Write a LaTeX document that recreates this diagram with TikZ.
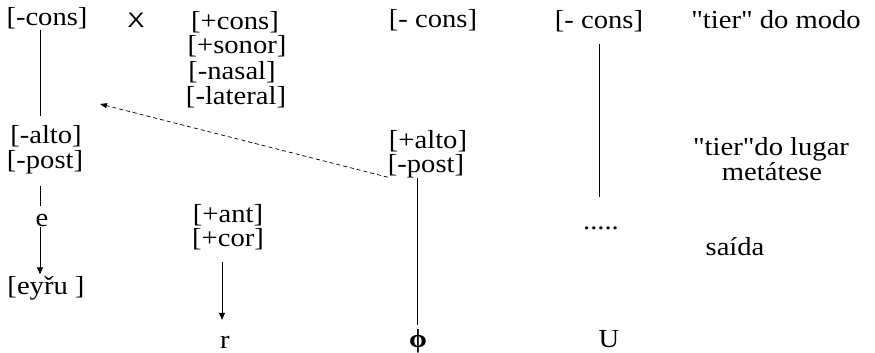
\documentclass[tikz,border=0pt]{standalone}
\usepackage{fontspec}
\setmainfont{Liberation Serif}[FakeStretch=1.1, Ligatures=TeXOff]
\newfontfamily\xsans{Liberation Sans}[FakeStretch=1.2]
\usetikzlibrary{arrows.meta}
\tikzset{
  lbl/.style={inner sep=0pt, text height=18pt, text depth=4pt, font=\fontsize{26}{26}\selectfont},
  conn/.style={line width=0.8pt, black},
  arr/.style={conn, -{Triangle[length=7pt,width=6pt]}},
  dsh/.style={line width=0.7pt, dashed, dash pattern=on 4pt off 3pt, -{Triangle[length=7pt,width=5pt]}}
}
\begin{document}
\begin{tikzpicture}[x=1pt,y=-1pt]
\useasboundingbox (0,0) rectangle (875,353);
% top row
\node[lbl] (cons1) at (47,18.5) {[-cons]};
\node[inner sep=0pt, font=\xsans\fontsize{21}{21}\selectfont] (X) at (136,20) {X};
\node[lbl] (pcons) at (235,23) {[+cons]};
\node[lbl] (psonor) at (237,47) {[+sonor]};
\node[lbl] (mnasal) at (232,73) {[-nasal]};
\node[lbl] (mlat) at (236,97) {[-lateral]};
\node[lbl] (cons2) at (433,21) {[- cons]};
\node[lbl] (cons3) at (599,22) {[- cons]};
\node[lbl] (tmodo) at (776,22) {"tier" do modo};
% middle
\node[lbl] (malto) at (46,136) {[-alto]};
\node[lbl] (mpost1) at (45,161) {[-post]};
\node[lbl] (palto) at (428,141) {[+alto]};
\node[lbl] (mpost2) at (426,165) {[-post]};
\node[lbl] (tlugar) at (771,148) {"tier"do lugar};
\node[lbl] (metat) at (772,173) {metátese};
% lower
\node[lbl] (e) at (42,219) {e};
\node[lbl] (pant) at (228,215) {[+ant]};
\node[lbl] (pcor) at (228,239) {[+cor]};
\node[lbl] (dots) at (601,222) {.....};
\node[lbl] (saida) at (735,248) {saída};
\node[lbl] (eyru) at (46,287.5) {[eyřu ]};
\node[lbl] (r) at (225,341) {r};
\node[lbl, font=\fontsize{26}{26}\selectfont\bfseries] (phi) at (418,340) {ϕ};
\node[lbl] (U) at (609,340) {U};
% connectors
\draw[conn] (cons1.south -| 40,0) -- ([yshift=9pt]malto.north -| 40,0);
\draw[conn] ([yshift=-14pt]mpost1.south -| 40,0) -- ([yshift=2pt]e.north -| 40,0);
\draw[arr] ([yshift=-1pt]e.base -| 40,0) -- ([yshift=2pt]eyru.north -| 40,0);
\draw[arr] ([yshift=-12pt]pcor.south -| 222,0) -- ([yshift=10pt]r.north -| 222,0);
\draw[conn] ([yshift=-2pt]mpost2.south -| 417,0) -- ([yshift=4pt]phi.north -| 417,0);
\draw[conn] ([yshift=-11pt]cons3.south -| 599,0) -- ([yshift=14pt]dots.north -| 599,0);
\coordinate (dtip) at (100,104);
\draw[dsh] ([shift={(0,1)}]mpost2.south west) -- (dtip);
\end{tikzpicture}
\end{document}
